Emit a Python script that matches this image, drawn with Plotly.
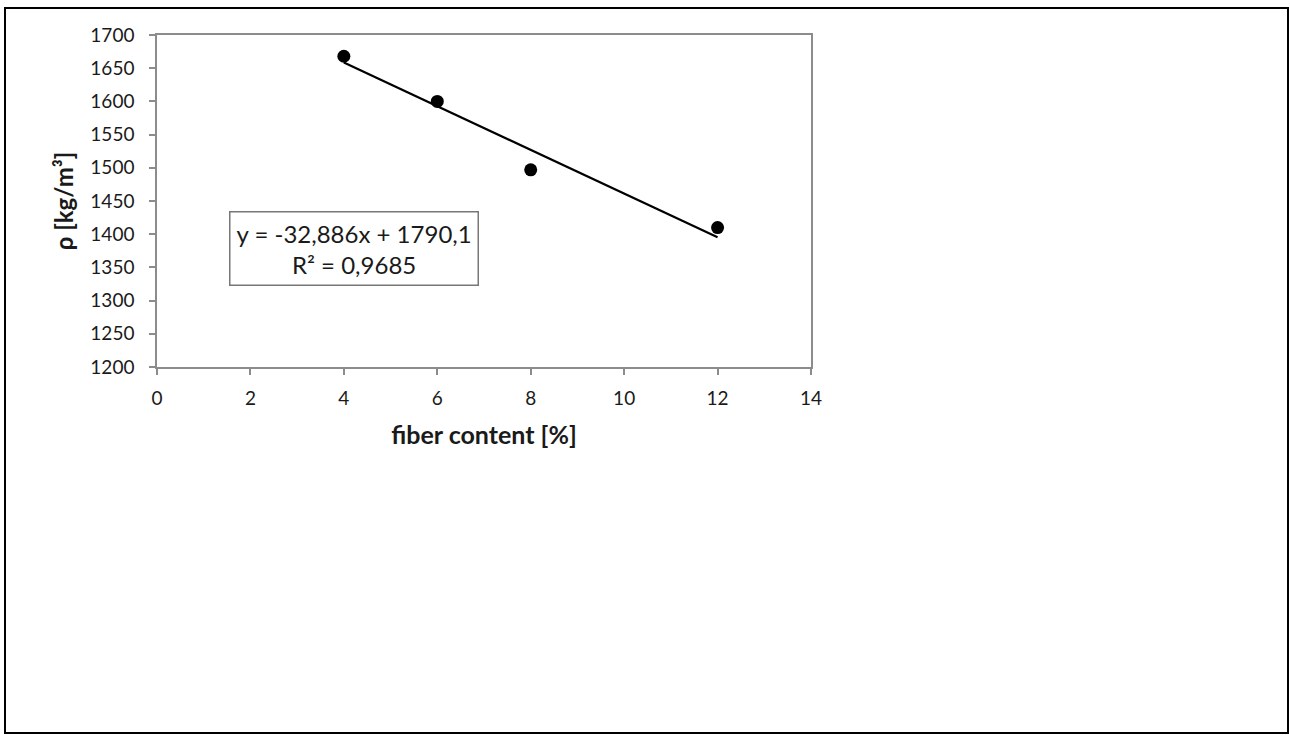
import plotly.graph_objects as go

fiber = [4, 6, 8, 12]
density = [1668, 1600, 1497, 1410]
slope = -32.886
intercept = 1790.1
trend_x = [4, 12]
trend_y = [slope * x + intercept for x in trend_x]
x_ticks = [0, 2, 4, 6, 8, 10, 12, 14]
y_ticks = list(range(1200, 1701, 50))

W, H = 1290, 736
L, R, T, B = 157, 811, 35, 367
FONT = "Lato, Open Sans, sans-serif"

def px(x):
    return (x - L) / (R - L)

def py(y):
    return (B - y) / (B - T)

fig = go.Figure()
fig.add_trace(go.Scatter(x=trend_x, y=trend_y, mode="lines",
                         line=dict(color="black", width=2.2), showlegend=False))
fig.add_trace(go.Scatter(x=fiber, y=density, mode="markers",
                         marker=dict(color="black", size=13), showlegend=False))

axis_common = dict(showgrid=False, zeroline=False, showline=True, linecolor="#8c8c8c",
                   linewidth=1.5, mirror=True, ticks="outside", ticklen=6,
                   tickcolor="#8c8c8c", tickwidth=1.5,
                   tickfont=dict(family=FONT, size=19, color="#1a1a1a"))

fig.update_layout(
    width=W, height=H,
    margin=dict(l=L, r=W - R, t=T, b=H - B, autoexpand=False),
    paper_bgcolor="white", plot_bgcolor="white",
    xaxis=dict(range=[0, 14], tickvals=x_ticks, ticklabelstandoff=7,
               title=dict(text="<b>fiber content [%]</b>", standoff=19,
                          font=dict(family=FONT, size=25, color="#1a1a1a")),
               **axis_common),
    yaxis=dict(range=[1200, 1700], tickvals=y_ticks, ticklabelstandoff=11,
               title=dict(text="<b>ρ [kg/m³]</b>", standoff=10,
                          font=dict(family=FONT, size=24, color="#1a1a1a")),
               **axis_common),
    shapes=[
        dict(type="rect", xref="paper", yref="paper",
             x0=px(5), x1=px(1288), y0=py(733), y1=py(8),
             line=dict(color="black", width=2), layer="below"),
    ],
    annotations=[
        dict(x=4.22, y=1378, xref="x", yref="y",
             text="y = -32,886x + 1790,1<br>R² = 0,9685",
             showarrow=False, align="center",
             font=dict(family=FONT, size=24, color="#1a1a1a"),
             bordercolor="#777", borderwidth=1.5, borderpad=6, bgcolor="white"),
    ],
)

fig.write_html("out.html", config={"displayModeBar": False},
               post_script="document.body.style.margin='0px';")
